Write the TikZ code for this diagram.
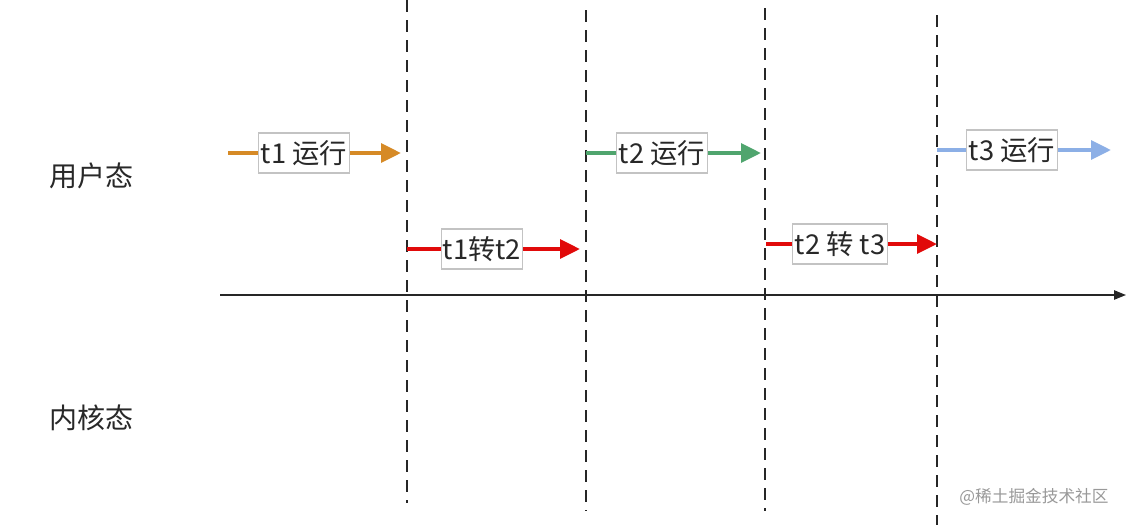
\documentclass[tikz,border=0pt]{standalone}
\usepackage{fontspec}
\setmainfont{Noto Sans CJK SC}
\usetikzlibrary{arrows.meta}
\definecolor{corange}{RGB}{214,138,38}
\definecolor{cred}{RGB}{225,10,10}
\definecolor{cgreen}{RGB}{80,165,110}
\definecolor{cblue}{RGB}{140,175,230}
\definecolor{cbox}{RGB}{195,195,195}
\definecolor{ctext}{RGB}{40,40,40}
\tikzset{
  vdash/.style={line width=1.1pt, dash pattern=on 9pt off 6pt, black!85},
  flow/.style={line width=3pt, -{Triangle[length=15pt,width=14pt]}},
  lbox/.style={draw=cbox, line width=0.9pt, fill=white, minimum height=30pt, inner xsep=0.5pt, inner ysep=0pt, font=\fontsize{20.5}{22}\selectfont, text=ctext},
  side/.style={font=\fontsize{21}{23}\selectfont, text=ctext},
}
\begin{document}
\begin{tikzpicture}[x=0.75pt,y=-0.75pt]
\useasboundingbox[fill=white] (0,0) rectangle (1131,525);
% dashed separators
\coordinate (d1t) at (407,0);   \coordinate (d1b) at (407,503);
\coordinate (d2t) at (586,10);  \coordinate (d2b) at (586,511);
\coordinate (d3t) at (765,8);   \coordinate (d3b) at (765,511);
\coordinate (d4t) at (937,15);  \coordinate (d4b) at (937,525);
\draw[vdash] (d1t) -- (d1b);
\draw[vdash] (d2t) -- (d2b);
\draw[vdash] (d3t) -- (d3b);
\draw[vdash] (d4t) -- (d4b);
% time axis
\coordinate (ax0) at (220,295); \coordinate (ax1) at (1126,295);
\draw[line width=1.1pt, black!85, -{Triangle[length=9pt,width=7pt]}] (ax0) -- (ax1);
% side labels
\node[side] (user) at (91,176) {用户态};
\node[side] (kern) at (91,418) {内核态};
% flows
\coordinate (f1s) at (228,153); \coordinate (f1e) at (401,153);
\draw[flow, corange] (f1s) -- (f1e);
\node[lbox, minimum width=68pt] (b1) at (304,153) {t1 运行};
\coordinate (f2s) at (407,249); \coordinate (f2e) at (580,249);
\draw[flow, cred] (f2s) -- (f2e);
\node[lbox, minimum width=61pt] (b2) at (482,249) {t1转t2};
\coordinate (f3s) at (586,153); \coordinate (f3e) at (761,153);
\draw[flow, cgreen] (f3s) -- (f3e);
\node[lbox, minimum width=68pt] (b3) at (662,153) {t2 运行};
\coordinate (f4s) at (766,244); \coordinate (f4e) at (937,244);
\draw[flow, cred] (f4s) -- (f4e);
\node[lbox, minimum width=71pt] (b4) at (840,244) {t2 转 t3};
\coordinate (f5s) at (937,150); \coordinate (f5e) at (1111,150);
\draw[flow, cblue] (f5s) -- (f5e);
\node[lbox, minimum width=68pt] (b5) at (1012,150) {t3 运行};
% watermark
\node[font=\fontsize{12.5}{14}\selectfont, text=black!40] (wm) at (1034,497) {@稀土掘金技术社区};
\end{tikzpicture}
\end{document}
